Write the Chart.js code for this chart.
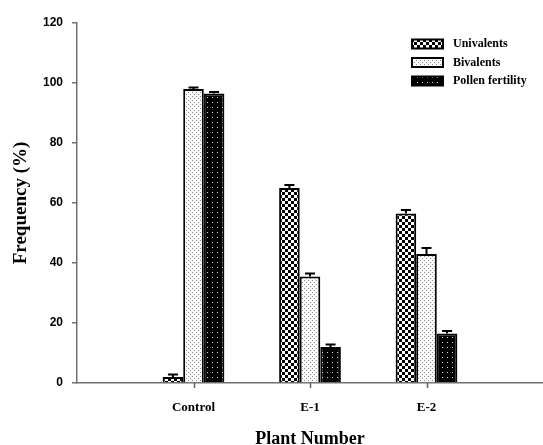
<!DOCTYPE html>
<html>
<head>
<meta charset="utf-8">
<script src="https://cdn.jsdelivr.net/npm/chart.js@4/dist/chart.umd.min.js"></script>
<style>
  html, body { margin: 0; padding: 0; background: #fff; overflow: hidden; }
  #wrap { width: 543px; height: 445px; }
</style>
</head>
<body>
<div id="wrap"><canvas id="myChart" width="543" height="445"></canvas></div>
<script>
// data
var categories = ['', 'Control', 'E-1', 'E-2', ''];
var seriesNames = ['Univalents', 'Bivalents', 'Pollen fertility'];
var univalents = [null, 2, 65, 56.5, null];
var bivalents = [null, 98, 35.5, 43, null];
var pollenFertility = [null, 96.5, 12, 16.5, null];
var univalentsErr = [0, 0.8, 1, 1.2, 0];
var bivalentsErr = [0, 0.5, 1, 2, 0];
var pollenErr = [0, 0.5, 0.8, 0.8, 0];
var yTicks = [0, 20, 40, 60, 80, 100, 120];

function makePattern(kind) {
    var c = document.createElement('canvas');
    var ctx = c.getContext('2d');
    if (kind === 'checker') {
        c.width = 6; c.height = 6;
        ctx.fillStyle = '#fff';
        ctx.fillRect(0, 0, 6, 6);
        ctx.fillStyle = '#000';
        ctx.fillRect(0, 0, 3, 3);
        ctx.fillRect(3, 3, 3, 3);
    } else if (kind === 'light') {
        c.width = 4; c.height = 4;
        ctx.fillStyle = '#fbfbfb';
        ctx.fillRect(0, 0, 4, 4);
        ctx.fillStyle = '#8a8a8a';
        ctx.fillRect(0, 0, 1, 1);
        ctx.fillRect(2, 2, 1, 1);
    } else {
        c.width = 5; c.height = 5;
        ctx.fillStyle = '#000';
        ctx.fillRect(0, 0, 5, 5);
        ctx.fillStyle = '#ddd';
        ctx.fillRect(2, 2, 1, 1);
    }
    return ctx.createPattern(c, 'repeat');
}

var errors = [univalentsErr, bivalentsErr, pollenErr];

// T-shaped error bars on top of each bar, plus the little category ticks
var errorBars = {
    id: 'errorBars',
    afterDatasetsDraw: function (chart) {
        var ctx = chart.ctx;
        var xScale = chart.scales.x;
        var yScale = chart.scales.y;
        ctx.save();
        ctx.strokeStyle = '#000';
        ctx.lineWidth = 2;
        chart.data.datasets.forEach(function (ds, di) {
            var meta = chart.getDatasetMeta(di);
            meta.data.forEach(function (bar, i) {
                var v = ds.data[i];
                if (v == null) return;
                var yTop = yScale.getPixelForValue(v + errors[di][i]);
                ctx.beginPath();
                ctx.moveTo(bar.x, bar.y);
                ctx.lineTo(bar.x, yTop);
                ctx.moveTo(bar.x - 5, yTop);
                ctx.lineTo(bar.x + 5, yTop);
                ctx.stroke();
            });
        });
        ctx.strokeStyle = '#606060';
        ctx.lineWidth = 1.5;
        categories.forEach(function (c, i) {
            if (!c) return;
            var x = Math.round(xScale.getPixelForTick(i)) + 0.5;
            ctx.beginPath();
            ctx.moveTo(x, xScale.top);
            ctx.lineTo(x, xScale.top + 5);
            ctx.stroke();
        });
        ctx.restore();
    }
};

// legend drawn inside the plot, top right
var insideLegend = {
    id: 'insideLegend',
    afterDraw: function (chart) {
        var ctx = chart.ctx;
        ctx.save();
        ctx.font = 'bold 12px "Liberation Serif", "Times New Roman", serif';
        ctx.textBaseline = 'middle';
        chart.data.datasets.forEach(function (ds, i) {
            var y = 44 + i * 18.5;
            ctx.fillStyle = ds.backgroundColor;
            ctx.fillRect(412, y - 4.5, 31, 9);
            ctx.strokeStyle = '#000';
            ctx.lineWidth = 2;
            ctx.strokeRect(412, y - 4.5, 31, 9);
            ctx.fillStyle = '#000';
            ctx.fillText(ds.label, 453, y);
        });
        ctx.restore();
    }
};

var serif = '"Liberation Serif", "Times New Roman", serif';
var sans = '"Liberation Sans", Arial, sans-serif';

new Chart(document.getElementById('myChart'), {
    type: 'bar',
    data: {
        labels: categories,
        datasets: [
            { label: seriesNames[0], data: univalents, backgroundColor: makePattern('checker') },
            { label: seriesNames[1], data: bivalents, backgroundColor: makePattern('light') },
            { label: seriesNames[2], data: pollenFertility, backgroundColor: makePattern('dark') }
        ].map(function (d) {
            d.borderColor = '#000';
            d.borderWidth = 2;
            d.borderSkipped = 'bottom';
            d.categoryPercentage = 0.53;
            d.barPercentage = 1.0;
            return d;
        })
    },
    options: {
        responsive: false,
        animation: false,
        layout: { padding: { top: 23, right: 0, left: 6, bottom: 0 } },
        plugins: {
            legend: { display: false },
            tooltip: { enabled: false }
        },
        scales: {
            x: {
                offset: false,
                grid: {
                    offset: false,
                    drawOnChartArea: false,
                    drawTicks: true,
                    tickLength: 5,
                    color: 'rgba(0,0,0,0)'
                },
                border: { color: '#707070', width: 1.5 },
                ticks: {
                    color: '#000',
                    font: { family: serif, size: 13, weight: 'bold' },
                    padding: 12,
                    maxRotation: 0,
                    autoSkip: false
                },
                title: {
                    display: true,
                    text: 'Plant Number',
                    color: '#000',
                    font: { family: serif, size: 18, weight: 'bold' },
                    padding: { top: 12, bottom: -5 }
                },
                afterFit: function (s) {
                    s.height = 62;
                    s.paddingLeft = 0;
                    s.paddingRight = 0;
                }
            },
            y: {
                min: 0,
                max: 120,
                afterBuildTicks: function (s) {
                    s.ticks = yTicks.map(function (v) { return { value: v }; });
                },
                grid: {
                    drawOnChartArea: false,
                    drawTicks: true,
                    tickLength: 5,
                    lineWidth: 1.5,
                    color: '#707070'
                },
                border: { color: '#707070', width: 1.5 },
                ticks: {
                    color: '#000',
                    font: { family: sans, size: 12, weight: 'bold' },
                    padding: 9
                },
                title: {
                    display: true,
                    text: 'Frequency (%)',
                    color: '#000',
                    font: { family: serif, size: 19, weight: 'bold' },
                    padding: { bottom: 0 }
                },
                afterFit: function (s) { s.width = 71; }
            }
        }
    },
    plugins: [errorBars, insideLegend]
});
</script>
</body>
</html>
